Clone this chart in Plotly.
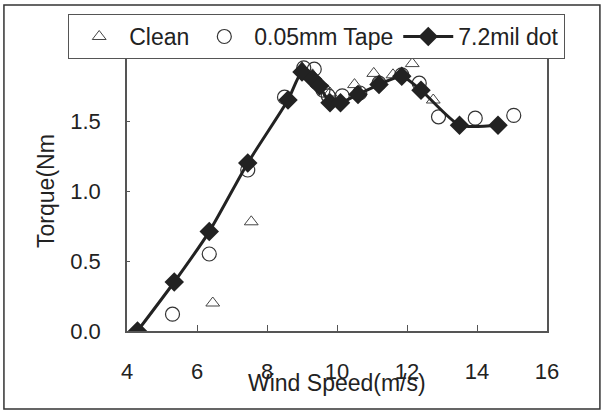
import plotly.graph_objects as go

# Clean (triangles)
clean_x = [6.45, 7.55, 9.0, 9.3, 9.8, 10.5, 11.05, 11.6, 12.15, 12.75]
clean_y = [0.20, 0.78, 1.88, 1.83, 1.70, 1.76, 1.84, 1.83, 1.91, 1.65]

# 0.05mm Tape (circles)
tape_x = [5.3, 6.35, 7.45, 8.5, 9.05, 9.35, 9.6, 9.75, 10.15, 10.65, 11.2, 11.85, 12.35, 12.9, 13.95, 15.05]
tape_y = [0.12, 0.55, 1.15, 1.67, 1.88, 1.87, 1.72, 1.68, 1.68, 1.70, 1.77, 1.83, 1.77, 1.53, 1.52, 1.54]

# 7.2mil dot (diamonds + smooth line)
dot_x = [4.3, 5.35, 6.35, 7.45, 8.6, 9.0, 9.3, 9.5, 9.8, 10.1, 10.6, 11.2, 11.85, 12.4, 13.5, 14.6]
dot_y = [0.0, 0.35, 0.71, 1.20, 1.65, 1.85, 1.80, 1.75, 1.63, 1.63, 1.69, 1.76, 1.82, 1.72, 1.47, 1.47]

x_ticks = [4, 6, 8, 10, 12, 14, 16]
y_ticks = [0.0, 0.5, 1.0, 1.5, 2.0]

FONT = "Liberation Sans, Arial, sans-serif"
DARK = "#222222"

fig = go.Figure()
fig.add_trace(go.Scatter(
    x=clean_x, y=clean_y, mode="markers", name="Clean",
    marker=dict(symbol="triangle-up-open", size=12, color="#444444", line=dict(width=1)),
))
fig.add_trace(go.Scatter(
    x=tape_x, y=tape_y, mode="markers", name="0.05mm Tape",
    marker=dict(symbol="circle-open", size=14, color="#333333", line=dict(width=1.2)),
))
fig.add_trace(go.Scatter(
    x=dot_x, y=dot_y, mode="lines+markers", name="7.2mil dot",
    line=dict(color=DARK, width=3, shape="spline", smoothing=0.6),
    marker=dict(symbol="diamond", size=15, color=DARK),
))

fig.update_layout(
    width=604, height=410,
    margin=dict(l=127, r=57, t=51, b=79),
    paper_bgcolor="white", plot_bgcolor="white",
    font=dict(family=FONT, size=22, color="#222222"),
    showlegend=True,
    legend=dict(
        orientation="h", x=-0.14, y=1.132, xanchor="left", yanchor="top",
        bordercolor="#555555", borderwidth=1, bgcolor="white",
        font=dict(family=FONT, size=23, color="#222222"),
        itemwidth=50, tracegroupgap=0,
    ),
    xaxis=dict(
        range=[4, 16], tickvals=x_ticks, ticktext=[str(v) for v in x_ticks],
        ticks="inside", ticklen=6, tickcolor="#555555",
        showline=True, linecolor="#555555", linewidth=1.5, mirror=True,
        showgrid=False, zeroline=False, ticklabelstandoff=20,
        tickfont=dict(size=22),
    ),
    yaxis=dict(
        range=[0, 2], tickvals=y_ticks, ticktext=[f"{v:.1f}" for v in y_ticks],
        ticks="inside", ticklen=3, tickcolor="#555555",
        showline=True, linecolor="#555555", linewidth=1.5, mirror=True,
        showgrid=False, zeroline=False, ticklabelstandoff=20,
        tickfont=dict(size=22),
    ),
    annotations=[
        dict(text="Wind Speed(m/s)", xref="paper", yref="paper", x=0.5, y=-0.186,
             xanchor="center", yanchor="middle", showarrow=False, font=dict(size=23)),
        dict(text="Torque(Nm", xref="paper", yref="paper", x=-0.193, y=0.5,
             xanchor="center", yanchor="middle", showarrow=False, textangle=-90,
             font=dict(size=23)),
    ],
    shapes=[
        dict(type="rect", xref="paper", yref="paper", x0=-0.293, x1=1.126, y0=-0.279, y1=1.164,
             line=dict(color="#333333", width=1.5), layer="below"),
    ],
)

fig.write_html("out.html")
